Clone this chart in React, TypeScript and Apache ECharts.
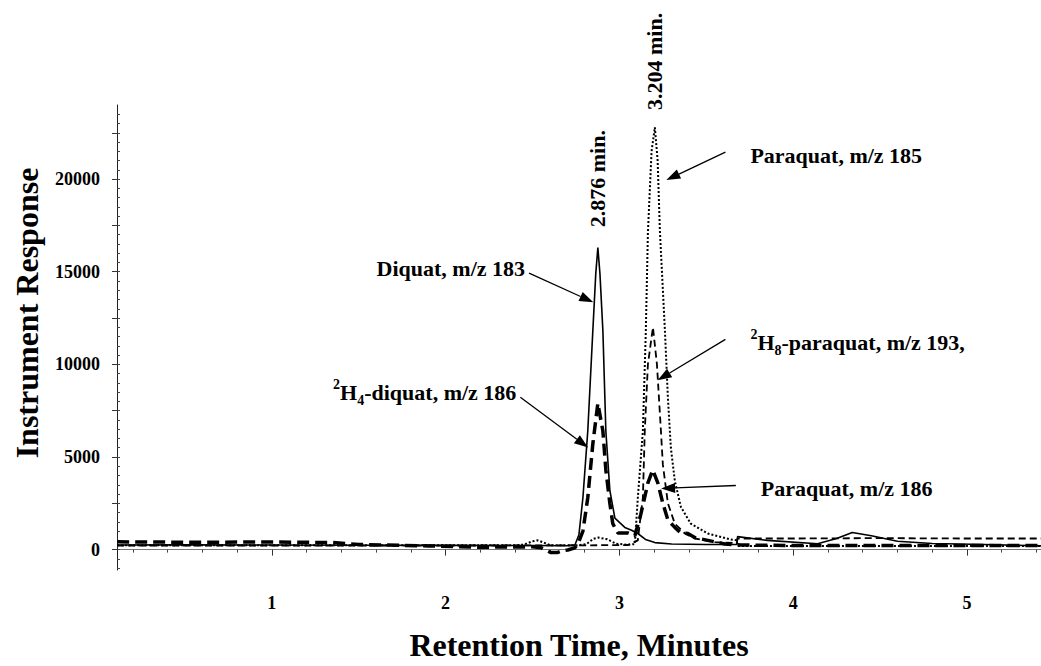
import React, { useEffect, useRef } from "react";
import * as echarts from "echarts";

const FONT = '"Liberation Serif", "Times New Roman", Times, serif';

// Retention time axis
const X_MIN = 0.109;
const X_MAX = 5.426;
const xMajorTicks = [1, 2, 3, 4, 5];
const xMinorTicks = [0.2, 0.4, 0.6, 0.8, 1.2, 1.4, 1.6, 1.8, 2.2, 2.4, 2.6, 2.8, 3.2, 3.4, 3.6, 3.8, 4.2, 4.4, 4.6, 4.8, 5.2, 5.4];

// Instrument response axis
const Y_MIN = -1100;
const Y_MAX = 24000;
const yLabelValues = [0, 5000, 10000, 15000, 20000];
const yMajorTicks = [0, 2500, 5000, 7500, 10000, 12500, 15000, 17500, 20000, 22500];
const yMinorTicks = [-1000, -500, 0, 500, 1000, 1500, 2000, 2500, 3000, 3500, 4000, 4500, 5000, 5500, 6000, 6500, 7000, 7500, 8000, 8500, 9000, 9500, 10000, 10500, 11000, 11500, 12000, 12500, 13000, 13500, 14000, 14500, 15000, 15500, 16000, 16500, 17000, 17500, 18000, 18500, 19000, 19500, 20000, 20500, 21000, 21500, 22000, 22500, 23000, 23500];

// Diquat, m/z 183 (solid)
const diquat183T = [0.11, 0.5, 1.0, 1.5, 2.0, 2.5, 2.7, 2.744, 2.767, 2.79, 2.818, 2.847, 2.864, 2.876, 2.888, 2.905, 2.922, 2.945, 2.974, 3.031, 3.07, 3.106, 3.15, 3.204, 3.3, 3.5, 3.675, 3.68, 3.85, 4.14, 4.25, 4.34, 4.45, 4.6, 4.8, 5.1, 5.43];
const diquat183V = [250, 260, 250, 240, 230, 220, 210, 250, 800, 2800, 6400, 11800, 14900, 16300, 14900, 11800, 6400, 3200, 1700, 1200, 1050, 870, 550, 380, 300, 280, 280, 700, 500, 320, 600, 920, 750, 450, 330, 280, 200];

// Paraquat, m/z 185 (dotted)
const paraquat185T = [0.11, 1.0, 2.0, 2.4, 2.45, 2.5, 2.53, 2.56, 2.6, 2.75, 2.81, 2.85, 2.88, 2.93, 2.98, 3.05, 3.089, 3.106, 3.135, 3.152, 3.164, 3.185, 3.204, 3.22, 3.233, 3.262, 3.279, 3.296, 3.319, 3.354, 3.411, 3.509, 3.641, 3.675, 3.68, 4.0, 5.0, 5.43];
const paraquat185V = [230, 230, 240, 230, 270, 450, 500, 400, 240, 230, 300, 580, 650, 560, 320, 260, 300, 2800, 6400, 11800, 17100, 21500, 22800, 21000, 17200, 11800, 8200, 5500, 3700, 2300, 1400, 870, 550, 500, 200, 200, 200, 200];

// 2H8-paraquat, m/z 193 (thin dashes)
const paraquatD8T = [0.11, 1.0, 2.0, 2.8, 3.05, 3.106, 3.117, 3.135, 3.146, 3.164, 3.193, 3.216, 3.239, 3.25, 3.279, 3.319, 3.377, 3.434, 3.55, 3.675, 3.68, 4.0, 4.5, 5.0, 5.43];
const paraquatD8V = [220, 220, 220, 230, 250, 500, 1400, 2800, 6400, 10000, 12000, 10000, 6400, 4600, 2500, 1400, 870, 600, 400, 350, 600, 600, 620, 600, 600];

// m/z 186 trace: 2H4-diquat and paraquat (thick dashes)
const mz186T = [0.11, 0.5, 1.0, 1.35, 1.5, 1.9, 2.2, 2.5, 2.55, 2.606, 2.646, 2.675, 2.703, 2.744, 2.761, 2.79, 2.818, 2.847, 2.876, 2.905, 2.922, 2.945, 2.962, 2.991, 3.049, 3.089, 3.123, 3.164, 3.192, 3.221, 3.25, 3.279, 3.319, 3.354, 3.394, 3.434, 3.509, 3.607, 3.7, 4.0, 5.0, 5.43];
const mz186V = [420, 400, 410, 380, 280, 200, 130, 150, 100, -160, -150, -50, -20, 100, 300, 1000, 2800, 5700, 7900, 6400, 4300, 2500, 1400, 900, 900, 750, 1900, 3600, 4300, 3600, 2500, 1600, 1200, 900, 870, 650, 500, 300, 250, 220, 220, 220];

// Arrow annotations (data coordinates of arrow tail and tip)
const noteLabels = ["Paraquat, m/z 185", "{sup|2}{b|H}{sub|8}{b|-paraquat, m/z 193,}", "Paraquat, m/z 186", "Diquat, m/z 183", "{sup|2}{b|H}{sub|4}{b|-diquat, m/z 186}"];
const noteTails = [[3.61, 21460], [3.61, 11350], [3.67, 3460], [2.48, 14920], [2.43, 8220]];
const noteTips = [[3.27, 19950], [3.22, 9140], [3.24, 3300], [2.85, 13350], [2.82, 5510]];
const noteSides = ["right", "right", "right", "left", "left"];

// Retention-time labels above peaks
const peakLabels = ["2.876 min.", "3.204 min."];
const peakLabelAnchors = [[2.876, 17400], [3.204, 23730]];

const zip = (t: number[], v: number[]) => t.map((x, i) => [x, v[i]]);

export default function App() {
  const ref = useRef<HTMLDivElement>(null);
  useEffect(() => {
    const chart = echarts.init(ref.current!, null, { renderer: "svg" });
    const labelStyle = { fontFamily: FONT, fontWeight: "bold" as const, fontSize: 18, color: "#000" };
    const plain = (v: number) => String(v);
    chart.setOption({
      animation: false,
      backgroundColor: "#fff",
      grid: { left: 117, right: 0, top: 105, bottom: 96, containLabel: false },
      xAxis: [
        {
          type: "value", min: X_MIN, max: X_MAX,
          axisLine: { show: true, lineStyle: { color: "#777", width: 1 } },
          axisTick: { show: true, customValues: xMajorTicks, length: 6, lineStyle: { color: "#333" } },
          axisLabel: { customValues: xMajorTicks, margin: 24, formatter: plain, ...labelStyle },
          splitLine: { show: false },
        },
        {
          type: "value", min: X_MIN, max: X_MAX, position: "bottom",
          axisLine: { show: false },
          axisTick: { show: true, customValues: xMinorTicks, length: 3, lineStyle: { color: "#444" } },
          axisLabel: { show: false },
          splitLine: { show: false },
        },
      ],
      yAxis: [
        {
          type: "value", min: Y_MIN, max: Y_MAX,
          axisLine: { show: true, lineStyle: { color: "#222", width: 1 } },
          axisTick: { show: true, customValues: yMajorTicks, length: 5, lineStyle: { color: "#333" } },
          axisLabel: { customValues: yLabelValues, margin: 17, formatter: plain, ...labelStyle },
          splitLine: { show: false },
        },
        {
          type: "value", min: Y_MIN, max: Y_MAX, position: "left",
          axisLine: { show: false },
          axisTick: { show: true, inside: true, customValues: yMinorTicks, length: 3, lineStyle: { color: "#444" } },
          axisLabel: { show: false },
          splitLine: { show: false },
        },
      ],
      series: [
        { type: "line", name: "Diquat, m/z 183", data: zip(diquat183T, diquat183V), showSymbol: false, lineStyle: { color: "#000", width: 1.6, type: "solid" }, z: 3 },
        { type: "line", name: "Paraquat, m/z 185", data: zip(paraquat185T, paraquat185V), showSymbol: false, lineStyle: { color: "#000", width: 2, type: [2, 2] }, z: 2 },
        { type: "line", name: "2H8-paraquat, m/z 193", data: zip(paraquatD8T, paraquatD8V), showSymbol: false, lineStyle: { color: "#000", width: 1.8, type: [7, 4] }, z: 2 },
        { type: "line", name: "m/z 186", data: zip(mz186T, mz186V), showSymbol: false, lineStyle: { color: "#000", width: 3.5, type: [12, 6] }, z: 4 },
      ],
    });

    const px = (p: number[]) => chart.convertToPixel({ seriesIndex: 0 }, p) as number[];
    const textStyleBase = { fontFamily: FONT, fontWeight: "bold", fontSize: 22, fill: "#000" };
    const rich = {
      b: { fontFamily: FONT, fontWeight: "bold", fontSize: 22, lineHeight: 30, verticalAlign: "middle", fill: "#000" },
      sup: { fontFamily: FONT, fontWeight: "bold", fontSize: 14, lineHeight: 18, verticalAlign: "top", fill: "#000" },
      sub: { fontFamily: FONT, fontWeight: "bold", fontSize: 14, lineHeight: 14, verticalAlign: "bottom", fill: "#000" },
    };
    const graphics: any[] = [];
    noteLabels.forEach((label, i) => {
      const a = px(noteTails[i]);
      const b = px(noteTips[i]);
      const dx = b[0] - a[0];
      const dy = b[1] - a[1];
      const len = Math.sqrt(dx * dx + dy * dy);
      const ux = dx / len, uy = dy / len;
      const headLen = 14, headHalf = 5;
      const bx = b[0] - ux * headLen, by = b[1] - uy * headLen;
      graphics.push({ type: "line", shape: { x1: a[0], y1: a[1], x2: bx, y2: by }, style: { stroke: "#000", lineWidth: 1.3 }, silent: true });
      graphics.push({
        type: "polygon",
        shape: { points: [[b[0], b[1]], [bx - uy * headHalf, by + ux * headHalf], [bx + uy * headHalf, by - ux * headHalf]] },
        style: { fill: "#000" }, silent: true,
      });
      const right = noteSides[i] === "right";
      const isRich = label.indexOf("{") >= 0;
      graphics.push({
        type: "text",
        x: right ? a[0] + 25 : a[0] - 4,
        y: a[1] + (right ? 3 : -5),
        style: {
          ...textStyleBase,
          text: label,
          align: right ? "left" : "right",
          verticalAlign: "middle",
          ...(isRich ? { rich } : {}),
        },
        silent: true,
      });
    });
    peakLabels.forEach((label, i) => {
      const p = px(peakLabelAnchors[i]);
      graphics.push({
        type: "text", x: p[0], y: p[1], rotation: Math.PI / 2,
        style: { ...textStyleBase, text: label, align: "left", verticalAlign: "middle" },
        silent: true,
      });
    });
    graphics.push({
      type: "text", x: 27, y: 313, rotation: Math.PI / 2,
      style: { fontFamily: FONT, fontWeight: "bold", fontSize: 32, fill: "#000", text: "Instrument Response", align: "center", verticalAlign: "middle" },
      silent: true,
    });
    graphics.push({
      type: "text", x: 579, y: 645,
      style: { fontFamily: FONT, fontWeight: "bold", fontSize: 32, fill: "#000", text: "Retention Time, Minutes", align: "center", verticalAlign: "middle" },
      silent: true,
    });
    chart.setOption({ graphic: graphics });

    return () => chart.dispose();
  }, []);
  return (
    <div
      ref={ref}
      style={{ position: "fixed", left: 0, top: 0, width: 1041, height: 666, background: "#fff" }}
    />
  );
}
